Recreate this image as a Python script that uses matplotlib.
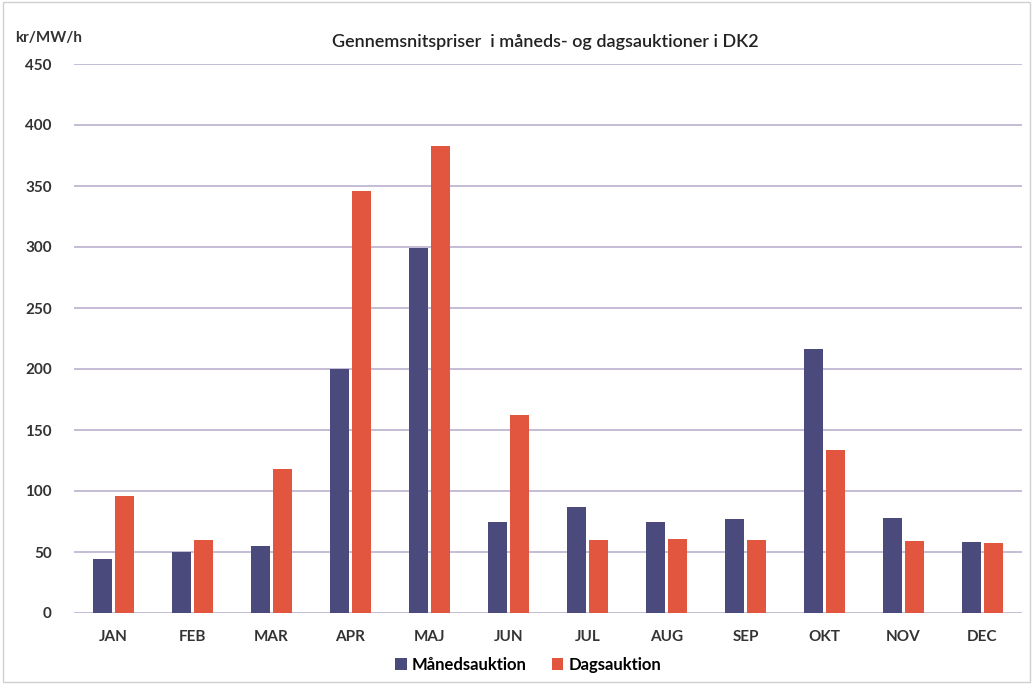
import numpy as np
import matplotlib.pyplot as plt

# average prices, monthly vs daily auctions (DK2)
months = ["JAN", "FEB", "MAR", "APR", "MAJ", "JUN", "JUL", "AUG", "SEP", "OKT", "NOV", "DEC"]
maaned = [44, 50, 55, 200, 299, 75, 87, 75, 77, 216, 78, 58]
dag = [96, 60, 118, 346, 383, 162, 60, 61, 60, 134, 59, 57]
yticks = [0, 50, 100, 150, 200, 250, 300, 350, 400, 450]

plt.rcParams['font.family'] = ['Lato', 'DejaVu Sans']

fig = plt.figure(figsize=(10.33, 6.84), dpi=100)
ax = fig.add_axes([74 / 1033, 1 - 613 / 684, 948 / 1033, 549 / 684])

x = np.arange(len(months))
w = 0.25
ax.bar(x - w / 2 - 0.015, maaned, width=w, color="#4a4a7c", label="Månedsauktion", zorder=3)
ax.bar(x + w / 2 + 0.015, dag, width=w, color="#e2553f", label="Dagsauktion", zorder=3)

ax.set_xlim(-0.5, 11.5)
ax.set_ylim(0, 450)
ax.set_yticks(yticks)
ax.set_xticks(x)
ax.set_xticklabels(months)
ax.yaxis.grid(True, color="#c5bdd6", linewidth=1.4, zorder=0)
for s in ax.spines.values():
    s.set_visible(False)
ax.tick_params(length=0, labelsize=11, colors="#333333", pad=12)
ax.tick_params(axis="y", pad=16)
for lab in ax.get_xticklabels() + ax.get_yticklabels():
    lab.set_fontweight("bold")

fig.text(15 / 1033, 1 - 38 / 684, "kr/MW/h", fontsize=11, fontweight="bold",
         color="#333333", va="center")
fig.text(545 / 1033, 1 - 42 / 684, "Gennemsnitspriser  i måneds- og dagsauktioner i DK2",
         fontsize=13, fontweight="semibold", color="#222222", ha="center", va="center")

fig.legend(loc="center", bbox_to_anchor=(528 / 1033, 1 - 665 / 684), ncol=2, frameon=False,
           handlelength=0.7, handleheight=0.7, handletextpad=0.3, columnspacing=1.5,
           prop={"size": 12, "weight": "bold"})

# thin frame around the figure
fig.patches.append(plt.Rectangle((0.003, 0.003), 0.994, 0.994, transform=fig.transFigure,
                                 fill=False, edgecolor="#d0d0d0", linewidth=1))

fig.savefig("out.png", dpi=100)
